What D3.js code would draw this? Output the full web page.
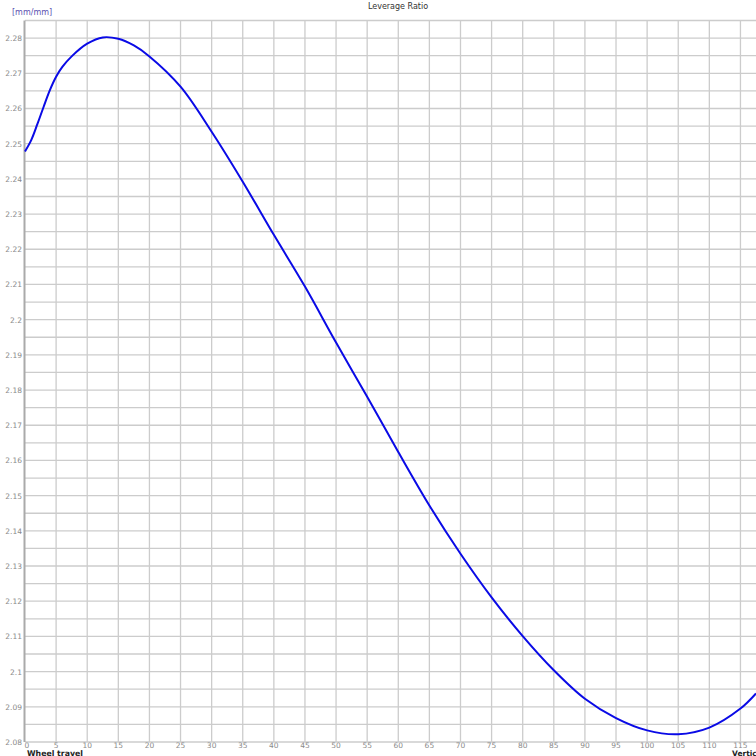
<!DOCTYPE html>
<html>
<head>
<meta charset="utf-8">
<script src="https://cdn.jsdelivr.net/npm/d3@7"></script>
<style>
html,body{margin:0;padding:0;background:#fff;overflow:hidden;}
svg{display:block;font-family:"DejaVu Sans",Verdana,sans-serif;}
</style>
</head>
<body>
<script>
// Wheel travel (mm)
const travel = [0, 1, 2, 3, 4, 5, 6, 7.5, 10, 12.5, 15, 17.5, 20, 25, 30, 35, 40, 45, 50, 55, 60, 65, 70, 75, 80, 85, 90, 95, 100, 105, 110, 115, 117.5];
// Leverage ratio (mm/mm)
const leverage = [2.2478, 2.2510, 2.2556, 2.2605, 2.2652, 2.2690, 2.2718, 2.2748, 2.2784, 2.2802, 2.2798, 2.2779, 2.2748, 2.2662, 2.2534, 2.2392, 2.2241, 2.2094, 2.1935, 2.1781, 2.1624, 2.1472, 2.1335, 2.1211, 2.1101, 2.1004, 2.0923, 2.0868, 2.0833, 2.0822, 2.0841, 2.0895, 2.0938];
const xTicks = d3.range(0, 116, 5);
const yTicks = d3.range(2.08, 2.2851, 0.01).map(v => +v.toFixed(2));
const yGrid = d3.range(2.08, 2.2851, 0.005).map(v => +v.toFixed(3));
const title = "Leverage Ratio";
const unitLabel = "[mm/mm]";
const xLabel = "Wheel travel";
const xLabel2 = "Vertical";

const W = 756, H = 756;
const svg = d3.select("body").append("svg").attr("width", W).attr("height", H);

const x = d3.scaleLinear().domain([0, 117.5]).range([25, 756]);
const y = d3.scaleLinear().domain([2.08, 2.285]).range([742, 20.5]);

// grid
svg.append("g").selectAll("line").data(yGrid).join("line")
  .attr("x1", 25).attr("x2", W)
  .attr("y1", d => y(d)).attr("y2", d => y(d))
  .attr("stroke", "#cccccc").attr("stroke-width", 1.3);
svg.append("g").selectAll("line").data(xTicks.filter(d => d > 0)).join("line")
  .attr("x1", d => x(d)).attr("x2", d => x(d))
  .attr("y1", y(2.285)).attr("y2", y(2.08))
  .attr("stroke", "#cccccc").attr("stroke-width", 1.3);
// left axis line
svg.append("line").attr("x1", 24.5).attr("x2", 24.5)
  .attr("y1", y(2.285)).attr("y2", y(2.08))
  .attr("stroke", "#aaaaaa").attr("stroke-width", 2);

// y tick labels
svg.append("g").selectAll("text").data(yTicks).join("text")
  .attr("x", 22).attr("y", d => y(d) + 3)
  .attr("text-anchor", "end")
  .attr("font-size", 7.5).attr("fill", "#8a8a8a")
  .text(d => String(d));

// x tick labels
svg.append("g").selectAll("text").data(xTicks).join("text")
  .attr("x", d => x(d) + (d === 0 ? 2 : 0)).attr("y", 747.5)
  .attr("text-anchor", "middle")
  .attr("font-size", 7.5).attr("fill", "#8a8a8a")
  .text(d => String(d));

// line
const line = d3.line().x((d, i) => x(travel[i])).y(d => y(d)).curve(d3.curveCatmullRom.alpha(0.5));
svg.append("path").datum(leverage)
  .attr("d", line).attr("fill", "none")
  .attr("stroke", "#0a0ae6").attr("stroke-width", 2);

// texts
svg.append("text").attr("x", 398).attr("y", 9).attr("text-anchor", "middle")
  .attr("font-size", 8).attr("fill", "#333").text(title);
svg.append("text").attr("x", 12).attr("y", 15)
  .attr("font-size", 8).attr("fill", "#5a4fb0").text(unitLabel);
svg.append("text").attr("x", 27).attr("y", 755.5)
  .attr("font-size", 7.8).attr("font-weight", "bold").attr("fill", "#222").text(xLabel);
svg.append("text").attr("x", 732).attr("y", 755.5)
  .attr("font-size", 7.5).attr("font-weight", "bold").attr("fill", "#222").text(xLabel2);
</script>
</body>
</html>
